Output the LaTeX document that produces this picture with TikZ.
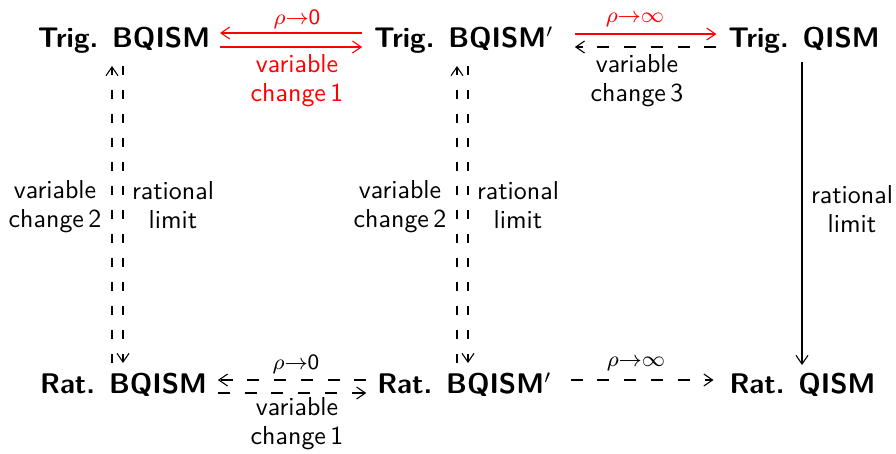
\documentclass[tikz,border=0pt]{standalone}
\usetikzlibrary{arrows.meta}
\begin{document}
\begin{tikzpicture}[x=0.3663pt,y=-0.3663pt,
  obj/.style={font=\fontsize{10.4}{12}\selectfont\sffamily\bfseries, inner sep=0pt, outer sep=0pt, anchor=base},
  lab/.style={font=\fontsize{9.5}{10.6}\selectfont\sffamily, align=center, inner sep=0pt},
  rlab/.style={font=\fontsize{8}{9}\selectfont\sffamily, inner sep=0pt},
  arr/.style={line width=0.4pt, -{Straight Barb[length=3.2pt,width=4.4pt]}},
  dsh/.style={dash pattern=on 4.4pt off 5.4pt},
  vdsh/.style={dash pattern=on 3.3pt off 5.5pt},
]
\useasboundingbox (0,0) rectangle (896,453);
% objects
\node[obj] (tb)  at (124,47)  {Trig. BQISM};
\node[obj] (tbp) at (464,47)  {Trig. BQISM$'$};
\node[obj] (tq)  at (804,47)  {Trig. QISM};
\node[obj] (rb)  at (123.5,393) {Rat. BQISM};
\node[obj] (rbp) at (464.5,393) {Rat. BQISM$'$};
\node[obj] (rq)  at (802.5,393) {Rat. QISM};
% top left (red)
\draw[arr,red] ([shift={(-12,-14)}]tbp.base west) -- ([shift={(10,-14)}]tb.base east);
\draw[arr,red] ([shift={(10,0)}]tb.base east) -- ([shift={(-12,0)}]tbp.base west);
\node[rlab,red] (l1) at (297,19) {$\rho{\rightarrow}\mathsf{0}$};
\node[lab,red] (l2) at (297,80.5) {variable\\change\,1};
% top right
\draw[arr,red] ([shift={(21,-13)}]tbp.base east) -- ([shift={(-12,-13)}]tq.base west);
\draw[arr,dsh] ([shift={(-12,0)}]tq.base west) -- ([shift={(21,0)}]tbp.base east);
\node[rlab,red] (l3) at (635,19.5) {$\rho{\rightarrow}\infty$};
\node[lab] (l4) at (637,80.5) {variable\\change\,3};
% bottom left
\draw[arr,dsh] ([shift={(-11,-13)}]rbp.base west) -- ([shift={(11,-13)}]rb.base east);
\draw[arr,dsh] ([shift={(11,0)}]rb.base east) -- ([shift={(-11,0)}]rbp.base west);
\node[rlab] (l5) at (296,364.5) {$\rho{\rightarrow}\mathsf{0}$};
\node[lab] (l6) at (297,424) {variable\\change\,1};
% bottom right
\draw[arr,dsh] ([shift={(19,-13)}]rbp.base east) -- ([shift={(-16,-13)}]rq.base west);
\node[rlab] (l7) at (636,363.5) {$\rho{\rightarrow}\infty$};
% column 1
\draw[arr,vdsh] ([shift={(-11.5,-30)}]rb.base) -- ([shift={(-12,19)}]tb.base);
\draw[arr,vdsh] ([shift={(-1,19)}]tb.base) -- ([shift={(-0.5,-30)}]rb.base);
\node[lab] (l8) at (55,207) {variable\\change\,2};
\node[lab] (l9) at (173,205.5) {rational\\limit};
% column 2
\draw[arr,vdsh] ([shift={(-7.5,-30)}]rbp.base) -- ([shift={(-7,19)}]tbp.base);
\draw[arr,vdsh] ([shift={(4,19)}]tbp.base) -- ([shift={(3.5,-30)}]rbp.base);
\node[lab] (l10) at (400,207) {variable\\change\,2};
\node[lab] (l11) at (518,205.5) {rational\\limit};
% column 3
\draw[arr] ([shift={(-2,15)}]tq.base) -- ([shift={(-0.5,-28)}]rq.base);
\node[lab] (l12) at (852,209.5) {rational\\limit};
\end{tikzpicture}
\end{document}
